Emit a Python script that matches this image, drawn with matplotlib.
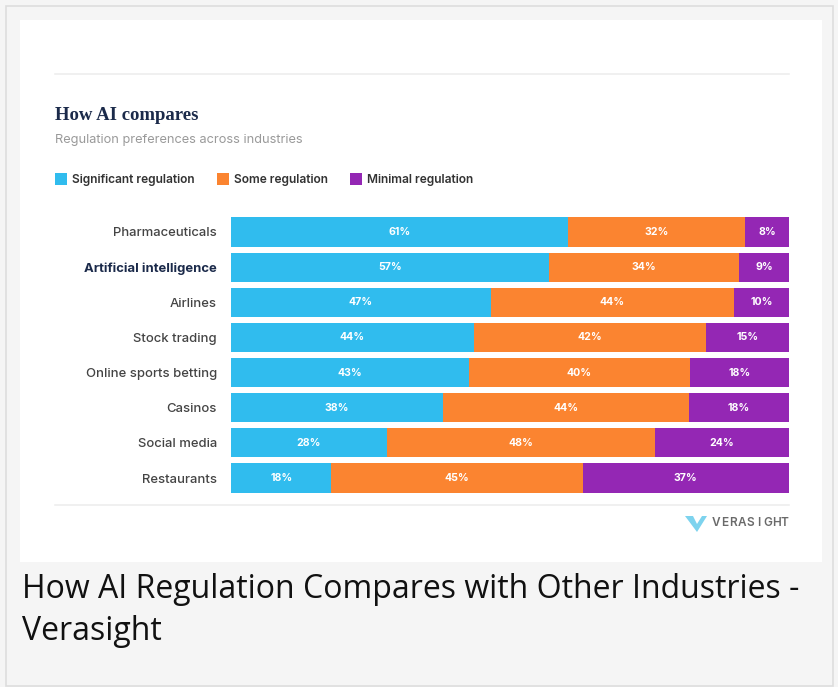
import numpy as np
import matplotlib
matplotlib.use("Agg")
import matplotlib.pyplot as plt
from matplotlib.patches import Rectangle, Polygon

industries = ["Pharmaceuticals", "Artificial intelligence", "Airlines", "Stock trading",
              "Online sports betting", "Casinos", "Social media", "Restaurants"]
significant = [61, 57, 47, 44, 43, 38, 28, 18]
some = [32, 34, 44, 42, 40, 44, 48, 45]
minimal = [8, 9, 10, 15, 18, 18, 24, 37]
series_names = ["Significant regulation", "Some regulation", "Minimal regulation"]
colors = ["#30bcee", "#fb8430", "#9427b4"]

W, H = 838, 687
fig = plt.figure(figsize=(W / 100, H / 100), dpi=100)
fig.patch.set_facecolor("#f5f5f5")

def fx(x):
    return x / W

def fy(y):
    return 1 - y / H

# page frame + white card (behind the axes)
fig.patches.append(Rectangle((fx(6), fy(686)), fx(827), 680 / H, transform=fig.transFigure,
                             facecolor="#f5f5f5", edgecolor="#dddddd", lw=1.2, zorder=-10))
fig.patches.append(Rectangle((fx(20), fy(562)), fx(802), 542 / H, transform=fig.transFigure,
                             facecolor="white", edgecolor="none", zorder=-9))

# separator lines
for y in (74, 505):
    fig.add_artist(plt.Line2D([fx(55), fx(789)], [fy(y), fy(y)], color="#eeeeee", lw=1.2))

fig.text(fx(55), fy(115), "How AI compares", family="Liberation Serif", weight="bold",
         size=13.5, color="#1b2a4a", va="center")
fig.text(fx(55), fy(140), "Regulation preferences across industries", family="Inter",
         size=9.2, color="#9a9a9a", va="center")

# legend
lx = [55, 217, 350]
for x0, name, c in zip(lx, series_names, colors):
    fig.patches.append(Rectangle((fx(x0), fy(185)), fx(12), 12 / H, transform=fig.transFigure,
                                 facecolor=c, edgecolor="none"))
    fig.text(fx(x0 + 17), fy(179.5), name, family="Inter", weight="semibold", size=8.6,
             color="#333333", va="center")

# bars
ax = fig.add_axes([fx(231), fy(495.6), fx(558), 281.2 / H])
vals = np.array([significant, some, minimal], dtype=float)
totals = vals.sum(axis=0)
shares = vals / totals
y = np.arange(len(industries))
left = np.zeros(len(industries))
for k in range(3):
    ax.barh(y, shares[k], left=left, height=0.83, color=colors[k], edgecolor="none")
    for i in range(len(industries)):
        ax.text(left[i] + shares[k][i] / 2, y[i], f"{int(vals[k][i])}%", ha="center",
                va="center", color="white", weight="bold", size=7.6, family="Inter")
    left += shares[k]

ax.set_xlim(0, 1)
ax.set_ylim(len(industries) - 0.5, -0.5)
ax.set_yticks(y)
ax.set_yticklabels(industries, family="Inter", size=9.4, color="#444444", weight="medium")
for lab in ax.get_yticklabels():
    if lab.get_text() == "Artificial intelligence":
        lab.set_weight("bold")
        lab.set_color("#1b2a4a")
ax.tick_params(axis="y", length=0, pad=10)
ax.set_xticks([])
for s in ax.spines.values():
    s.set_visible(False)
ax.set_facecolor("white")

# logo
fig.patches.append(Polygon([[fx(685), fy(516)], [fx(693), fy(516)], [fx(697), fy(524)],
                            [fx(702), fy(516)], [fx(707), fy(516)], [fx(697), fy(532)]],
                           closed=True, transform=fig.transFigure, facecolor="#7dd3ee",
                           edgecolor="none"))
for j, ch in enumerate("VERASIGHT"):
    fig.text(fx(716 + j * 8.6), fy(523), ch, family="Inter", weight="semibold", size=8.5,
             color="#6a6a6a", ha="center", va="center")

# caption
fig.text(fx(22), fy(590), "How AI Regulation Compares with Other Industries -",
         family="Open Sans", size=23, color="#111111", va="center")
fig.text(fx(22), fy(632), "Verasight", family="Open Sans", size=23, color="#111111",
         va="center")

fig.savefig("out.png", dpi=100, facecolor=fig.get_facecolor())
